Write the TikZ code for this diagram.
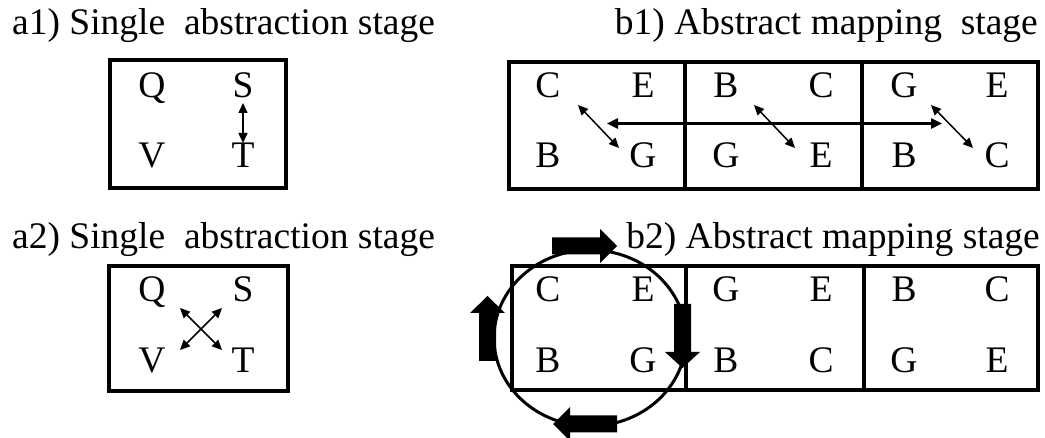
\documentclass[tikz,border=0pt]{standalone}
\usepackage{fontspec}
\setmainfont{Liberation Serif}
\usetikzlibrary{arrows.meta}
\begin{document}
\begin{tikzpicture}[x=1pt,y=-1pt,
  frame/.style={line width=4pt},
  lbl/.style={font=\fontsize{37.5}{40}\selectfont, inner sep=0pt, anchor=base},
  ttl/.style={font=\fontsize{37.5}{40}\selectfont, inner sep=0pt},
  thinarrow/.style={line width=1.5pt, {Triangle[length=10pt,width=9pt]}-{Triangle[length=10pt,width=9pt]}},
  midarrow/.style={line width=2.5pt, {Triangle[length=11pt,width=10pt]}-{Triangle[length=11pt,width=10pt]}},
  ring/.style={line width=3pt},
  blockarrow/.style={fill=black}
]
\useasboundingbox (0,0) rectangle (1045,438);

% titles
\node[ttl, anchor=base west] (ta1) at (12,35) {a1) Single\ \ abstraction stage};
\node[ttl, anchor=base east] (tb1) at (1038,35) {b1) Abstract mapping\ \ stage};
\node[ttl, anchor=base west] (ta2) at (12,249) {a2) Single\ \ abstraction stage};
\node[ttl, anchor=base east] (tb2) at (1040,249) {b2) Abstract mapping stage};

% frames
\draw[frame] (110,60) rectangle (286,188);
\draw[frame] (109,266) rectangle (288,391);
\draw[frame] (509,62) rectangle (1038,189);
\draw[frame] (685,62) -- (685,189);
\draw[frame] (862,62) -- (862,189);
\draw[frame] (512,266) rectangle (1038,390);
\draw[frame] (686,266) -- (686,390);
\draw[frame] (864,266) -- (864,390);

% a1 letters
\node[lbl] (a1Q) at (152,98) {Q};
\node[lbl] (a1S) at (243,98) {S};
\node[lbl] (a1V) at (152,168) {V};
\node[lbl] (a1T) at (243,168) {T};
% a2 letters
\node[lbl] (a2Q) at (152,302) {Q};
\node[lbl] (a2S) at (243,302) {S};
\node[lbl] (a2V) at (152,373) {V};
\node[lbl] (a2T) at (243,373) {T};
% b1 letters
\node[lbl] (b1a) at (548,98) {C};
\node[lbl] (b1b) at (643,98) {E};
\node[lbl] (b1c) at (548,168) {B};
\node[lbl] (b1d) at (643,168) {G};
\node[lbl] (b1e) at (726,98) {B};
\node[lbl] (b1f) at (821,98) {C};
\node[lbl] (b1g) at (726,168) {G};
\node[lbl] (b1h) at (821,168) {E};
\node[lbl] (b1i) at (904,98) {G};
\node[lbl] (b1j) at (997,98) {E};
\node[lbl] (b1k) at (904,168) {B};
\node[lbl] (b1l) at (997,168) {C};
% b2 letters
\node[lbl] (b2a) at (548,302) {C};
\node[lbl] (b2b) at (643,302) {E};
\node[lbl] (b2c) at (548,373) {B};
\node[lbl] (b2d) at (643,373) {G};
\node[lbl] (b2e) at (726,302) {G};
\node[lbl] (b2f) at (821,302) {E};
\node[lbl] (b2g) at (726,373) {B};
\node[lbl] (b2h) at (821,373) {C};
\node[lbl] (b2i) at (904,302) {B};
\node[lbl] (b2j) at (997,302) {C};
\node[lbl] (b2k) at (904,373) {G};
\node[lbl] (b2l) at (997,373) {E};

% thin arrows
\coordinate (a1u) at (243,103);
\coordinate (a1d) at (243,143);
\draw[thinarrow] (a1u) -- (a1d);
\coordinate (a2p) at (180,308);
\coordinate (a2q) at (222,350);
\coordinate (a2r) at (222,308);
\coordinate (a2s) at (180,350);
\draw[thinarrow] (a2p) -- (a2q);
\draw[thinarrow] (a2r) -- (a2s);
\coordinate (d1s) at (578,105);
\coordinate (d1e) at (619,148);
\coordinate (d2s) at (754,105);
\coordinate (d2e) at (795,148);
\coordinate (d3s) at (931,105);
\coordinate (d3e) at (973,148);
\draw[thinarrow] (d1s) -- (d1e);
\draw[thinarrow] (d2s) -- (d2e);
\draw[thinarrow] (d3s) -- (d3e);
\coordinate (hl) at (607,123.5);
\coordinate (hr) at (942,123.5);
\draw[midarrow] (hl) -- (hr);

% ring with block arrows
\draw[ring] (590,338) ellipse [x radius=96, y radius=88];
\fill[blockarrow] (552,237.5) -- (600,237.5) -- (600,229) -- (617,246) -- (600,263) -- (600,254.5) -- (552,254.5) -- cycle;
\fill[blockarrow] (674,304) -- (691,304) -- (691,352) -- (700,352) -- (682.5,368) -- (665,352) -- (674,352) -- cycle;
\fill[blockarrow] (617,415.5) -- (570,415.5) -- (570,407) -- (553,424) -- (570,441) -- (570,432.5) -- (617,432.5) -- cycle;
\fill[blockarrow] (479,361) -- (496,361) -- (496,313) -- (505,313) -- (487.5,296) -- (470,313) -- (479,313) -- cycle;
\end{tikzpicture}
\end{document}
